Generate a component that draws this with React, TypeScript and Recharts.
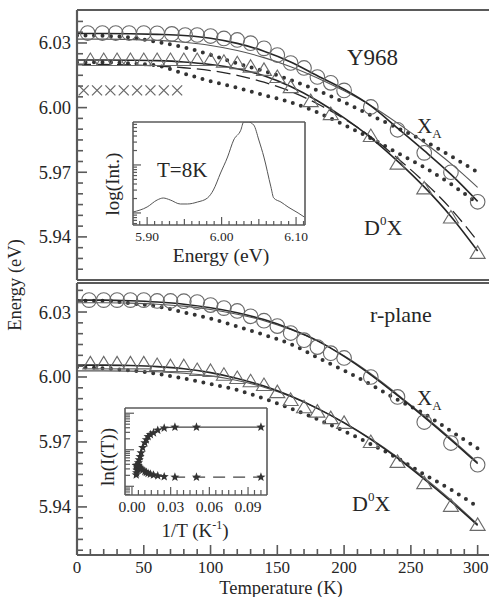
import React from "react";
import { ComposedChart, Line, XAxis, YAxis, ReferenceLine } from "recharts";

const FONT = '"Liberation Serif", "Times New Roman", serif';
const INK = "#262626";
const FRAME = "#5a5a5a";
const MARK = "#6a6a6a";

// temperature grid of the fit curves (K)
const fitT = [0, 20, 40, 60, 80, 100, 120, 140, 160, 180, 200, 220, 240, 260, 280, 300];

// ---- Y968 panel ----
const yXaT = [8, 19, 29, 39, 50, 60, 71, 81, 90, 100, 110, 120, 130, 140, 150, 160, 170, 180, 190, 200, 220, 240, 260, 280, 300];
const yXaE = [6.0346, 6.0346, 6.0346, 6.0346, 6.0346, 6.0345, 6.0342, 6.0337, 6.0337, 6.0332, 6.0321, 6.0314, 6.0299, 6.0275, 6.0244, 6.0207, 6.0184, 6.0142, 6.0115, 6.008, 6.0003, 5.9897, 5.979, 5.97, 5.9563];
const yXaFit = [6.0344, 6.0344, 6.0343, 6.034, 6.0335, 6.0322, 6.0298, 6.0262, 6.0212, 6.0148, 6.0085, 6.0008, 5.9905, 5.98, 5.969, 5.9565];
const yXaFit2 = [6.0318, 6.0318, 6.0316, 6.0312, 6.0303, 6.0288, 6.0265, 6.0232, 6.019, 6.0138, 6.0078, 6.001, 5.9928, 5.9838, 5.974, 5.963];
const yXaDot = [6.0335, 6.0333, 6.0325, 6.0305, 6.028, 6.0245, 6.0205, 6.017, 6.0128, 6.008, 6.0025, 5.9965, 5.9905, 5.9845, 5.9775, 5.97];

const yD0T = [10, 20, 30, 40, 50, 60, 70, 80, 90, 100, 110, 120, 130, 140, 150, 160, 175, 190, 220, 240, 260, 280, 300];
const yD0E = [6.0221, 6.0221, 6.0221, 6.0221, 6.0221, 6.0221, 6.0221, 6.0221, 6.0221, 6.0221, 6.0213, 6.0206, 6.019, 6.0175, 6.0142, 6.0095, 6.003, 5.997, 5.9868, 5.974, 5.9625, 5.949, 5.9326];
const yD0Fit = [6.0221, 6.0221, 6.022, 6.0218, 6.0212, 6.02, 6.018, 6.0148, 6.0098, 6.0032, 5.9952, 5.986, 5.9752, 5.9632, 5.9495, 5.9335];
const yD0Dash = [6.02, 6.02, 6.0198, 6.0193, 6.0185, 6.0172, 6.015, 6.0118, 6.0075, 6.0018, 5.9948, 5.9865, 5.9765, 5.9655, 5.953, 5.938];
const yD0Dot = [6.021, 6.021, 6.0205, 6.0195, 6.0158, 6.0123, 6.0092, 6.0058, 6.0025, 5.9978, 5.992, 5.9858, 5.979, 5.9723, 5.9645, 5.9555];

const yCrossT = [5, 15, 25, 35, 45, 55, 65, 75];
const yCrossE = [6.008, 6.008, 6.008, 6.008, 6.008, 6.008, 6.008, 6.008];

// ---- r-plane panel ----
const rXaT = [9, 20, 30, 40, 50, 60, 70, 80, 90, 100, 110, 120, 130, 140, 150, 160, 170, 180, 190, 200, 220, 240, 260, 280, 300];
const rXaE = [6.0355, 6.0355, 6.0355, 6.0355, 6.0355, 6.0351, 6.0351, 6.035, 6.0346, 6.0332, 6.0318, 6.0305, 6.028, 6.026, 6.0235, 6.0203, 6.017, 6.0138, 6.011, 6.0088, 6.0, 5.9908, 5.9792, 5.9695, 5.9595];
const rXaFit = [6.0355, 6.0355, 6.0352, 6.0346, 6.0336, 6.032, 6.0297, 6.0265, 6.0222, 6.0168, 6.0095, 6.001, 5.9915, 5.9815, 5.971, 5.96];
const rXaFit2 = [6.0343, 6.0343, 6.0341, 6.0336, 6.0327, 6.0312, 6.029, 6.026, 6.0219, 6.0166, 6.0098, 6.0015, 5.992, 5.982, 5.9715, 5.9605];
const rXaDot = [6.0352, 6.0352, 6.034, 6.0326, 6.0298, 6.027, 6.0233, 6.0195, 6.0152, 6.009, 6.003, 5.9965, 5.9895, 5.983, 5.975, 5.967];

const rD0T = [10, 20, 30, 40, 50, 60, 70, 80, 90, 100, 110, 120, 130, 140, 150, 160, 170, 180, 190, 200, 220, 240, 260, 280, 300];
const rD0E = [6.0063, 6.0063, 6.0063, 6.0063, 6.0063, 6.0055, 6.005, 6.005, 6.0032, 6.0028, 6.001, 5.9995, 5.998, 5.9963, 5.993, 5.9894, 5.986, 5.984, 5.981, 5.9788, 5.97, 5.9608, 5.951, 5.9405, 5.9317];
const rD0Fit = [6.0055, 6.0055, 6.0053, 6.0048, 6.0038, 6.002, 5.9993, 5.9958, 5.9912, 5.9855, 5.9788, 5.9712, 5.9625, 5.9528, 5.9425, 5.9315];
const rD0Fit2 = [6.0028, 6.0028, 6.0027, 6.0024, 6.0017, 6.0005, 5.9984, 5.9953, 5.991, 5.9855, 5.979, 5.9715, 5.963, 5.9535, 5.9432, 5.932];
const rD0Dot = [6.0045, 6.004, 6.003, 6.0015, 5.9993, 5.9968, 5.994, 5.99, 5.9855, 5.9805, 5.975, 5.969, 5.9625, 5.955, 5.948, 5.94];

// ---- PL spectrum inset (T = 8 K) ----
const specE = [5.881, 5.9, 5.9135, 5.9216, 5.931, 5.9446, 5.954, 5.9676, 5.981, 5.989, 5.9986, 6.008, 6.0162, 6.0257, 6.0297, 6.036, 6.0432, 6.05, 6.0568, 6.0662, 6.07, 6.0797, 6.0892, 6.1027, 6.111];
const specI = [12.6, 17.5, 24.3, 26.2, 24.3, 20.4, 20.4, 22.3, 26.2, 34, 50.5, 66, 82.5, 92, 100, 100, 97, 82.5, 66, 37, 26.2, 22.3, 17.5, 11.7, 7.8];

// ---- ln(I) vs 1/T inset ----
const invT = [0.0033, 0.0036, 0.0038, 0.0042, 0.0045, 0.005, 0.0056, 0.0063, 0.0071, 0.0083, 0.01, 0.0111, 0.0125, 0.0143, 0.0167, 0.02, 0.025, 0.0333, 0.05, 0.1];
const lnUpper = [2.3, 2.55, 2.85, 3.1, 3.4, 3.7, 4.05, 4.4, 4.85, 5.45, 6.0, 6.35, 6.7, 6.95, 7.15, 7.45, 7.7, 7.8, 7.8, 7.8];
const lnLower = [3.4, 3.4, 3.4, 3.4, 3.35, 3.3, 3.2, 3.1, 3.0, 2.85, 2.7, 2.6, 2.5, 2.4, 2.3, 2.2, 2.1, 2.05, 2.05, 2.05];

// ---- ticks ----
const tempTicks = [0, 10, 20, 30, 40, 50, 60, 70, 80, 90, 100, 110, 120, 130, 140, 150, 160, 170, 180, 190, 200, 210, 220, 230, 240, 250, 260, 270, 280, 290, 300];
const tempMajor = [0, 50, 100, 150, 200, 250, 300];
const energyTicks = [5.92, 5.925, 5.93, 5.935, 5.94, 5.945, 5.95, 5.955, 5.96, 5.965, 5.97, 5.975, 5.98, 5.985, 5.99, 5.995, 6.0, 6.005, 6.01, 6.015, 6.02, 6.025, 6.03, 6.035, 6.04];
const energyMajor = [5.94, 5.97, 6.0, 6.03];
const specTicks = [5.89, 5.9, 5.91, 5.92, 5.93, 5.94, 5.95, 5.96, 5.97, 5.98, 5.99, 6.0, 6.01, 6.02, 6.03, 6.04, 6.05, 6.06, 6.07, 6.08, 6.09, 6.1, 6.11];
const specMajor = [5.9, 6.0, 6.1];
const specMid = [5.95, 6.05];
const specLogTicks = [1.4, 4.5, 7.2, 9.6, 11.7, 25.7, 33.9, 39.8, 44.3, 48.0, 51.1, 53.8, 56.2, 58.3, 72.3, 80.5, 86.4, 90.9, 94.6, 97.7];
const specLogMajor = [11.7, 58.3];
const invTicks = [0, 0.005, 0.01, 0.015, 0.02, 0.025, 0.03, 0.035, 0.04, 0.045, 0.05, 0.055, 0.06, 0.065, 0.07, 0.075, 0.08, 0.085, 0.09, 0.095, 0.1];
const invMajor = [0, 0.03, 0.06, 0.09];
const lnTicks = [0.07, 0.35, 0.59, 0.8, 1.0, 2.26, 3.0, 3.53, 3.94, 4.27, 4.55, 4.79, 5.0, 5.2, 6.46, 7.2, 7.73, 8.14, 8.47, 8.75, 8.99, 9.2, 9.4];
const lnMajor = [1.0, 5.2, 9.4];

const pts = (xs: number[], ys: number[]) => xs.map((t, i) => ({ t, e: ys[i] }));
const has = (list: number[], v: number) => list.some((m) => Math.abs(m - v) < 1e-7);
const txt = { fontFamily: FONT };

// ---- markers ----
const OpenCircle = (p: any) => (
  <circle key={p.index} cx={p.cx} cy={p.cy} r={7.3} fill="none" stroke={MARK} strokeWidth={1.1} />
);
const OpenTriangle = (p: any) => (
  <path
    key={p.index}
    d={`M${p.cx},${p.cy - 7} L${p.cx + 7.5},${p.cy + 5.5} L${p.cx - 7.5},${p.cy + 5.5} Z`}
    fill="none"
    stroke={MARK}
    strokeWidth={1.1}
  />
);
const Cross = (p: any) => (
  <path
    key={p.index}
    d={`M${p.cx - 5},${p.cy - 5} L${p.cx + 5},${p.cy + 5} M${p.cx + 5},${p.cy - 5} L${p.cx - 5},${p.cy + 5}`}
    stroke={MARK}
    strokeWidth={1.3}
  />
);
const Star = (p: any) => {
  const pts5: string[] = [];
  for (let k = 0; k < 10; k++) {
    const r = k % 2 === 0 ? 4.8 : 2;
    const a = -Math.PI / 2 + (k * Math.PI) / 5;
    pts5.push(`${p.cx + r * Math.cos(a)},${p.cy + r * Math.sin(a)}`);
  }
  return <polygon key={p.index} points={pts5.join(" ")} fill="#333" />;
};

// ---- ticks (drawn inward) ----
const EnergyTick = (p: any) => {
  const v = p.payload.value;
  const major = has(energyMajor, v);
  return (
    <g>
      <line x1={p.x} x2={p.x + (major ? 10 : 6)} y1={p.y} y2={p.y} stroke={FRAME} strokeWidth={1.6} />
      {major && (
        <text x={p.x - 6} y={p.y + 6.5} textAnchor="end" fontSize={18.5} style={txt} fill={INK}>
          {v.toFixed(2)}
        </text>
      )}
    </g>
  );
};
const TempTick = (p: any) => {
  const v = p.payload.value;
  const major = has(tempMajor, v);
  return (
    <g>
      <line x1={p.x} x2={p.x} y1={p.y} y2={p.y - (major ? 10 : 6)} stroke={FRAME} strokeWidth={1.6} />
      {major && (
        <text x={p.x - (v === 300 ? 2 : 0)} y={p.y + 18} textAnchor="middle" fontSize={17} style={txt} fill={INK}>
          {v}
        </text>
      )}
    </g>
  );
};
const SpecXTick = (p: any) => {
  const v = p.payload.value;
  const major = has(specMajor, v);
  const len = major ? 8 : has(specMid, v) ? 6 : 4;
  return (
    <g>
      <line x1={p.x} x2={p.x} y1={p.y} y2={p.y - len} stroke={FRAME} strokeWidth={1.2} />
      {major && (
        <text x={p.x} y={p.y + 16} textAnchor="middle" fontSize={13.5} style={txt} fill={INK}>
          {v.toFixed(2)}
        </text>
      )}
    </g>
  );
};
const SpecYTick = (p: any) => {
  const major = has(specLogMajor, p.payload.value);
  return <line x1={p.x} x2={p.x + (major ? 8 : 4)} y1={p.y} y2={p.y} stroke={FRAME} strokeWidth={1.2} />;
};
const InvXTick = (p: any) => {
  const v = p.payload.value;
  const major = has(invMajor, v);
  return (
    <g>
      <line x1={p.x} x2={p.x} y1={p.y} y2={p.y - (major ? 8 : 5)} stroke={FRAME} strokeWidth={1.2} />
      {major && (
        <text x={p.x} y={p.y + 17} textAnchor="middle" fontSize={15.5} style={txt} fill={INK}>
          {v.toFixed(2)}
        </text>
      )}
    </g>
  );
};
const LnYTick = (p: any) => {
  const major = has(lnMajor, p.payload.value);
  return <line x1={p.x} x2={p.x + (major ? 9 : 5)} y1={p.y} y2={p.y} stroke={FRAME} strokeWidth={1.2} />;
};

const solid = (key: string, data: any[], w = 1.5, color = INK) => (
  <Line key={key} data={data} dataKey="e" type="monotone" stroke={color} strokeWidth={w} dot={false} activeDot={false} isAnimationActive={false} legendType="none" />
);
const dashed = (key: string, data: any[]) => (
  <Line key={key} data={data} dataKey="e" type="monotone" stroke={INK} strokeWidth={1.3} strokeDasharray="14 6" dot={false} activeDot={false} isAnimationActive={false} legendType="none" />
);
const dotted = (key: string, data: any[]) => (
  <Line key={key} data={data} dataKey="e" type="monotone" stroke="#333" strokeWidth={4} strokeLinecap="round" strokeDasharray="0 8.5" dot={false} activeDot={false} isAnimationActive={false} legendType="none" />
);
const markers = (key: string, data: any[], shape: any) => (
  <Line key={key} data={data} dataKey="e" stroke="none" dot={shape} activeDot={false} isAnimationActive={false} legendType="none" />
);

const TOP_DOMAIN: [number, number] = [5.92, 6.0453];
const BOT_DOMAIN: [number, number] = [5.9178, 6.0434];

export default function App() {
  return (
    <div style={{ position: "absolute", left: 0, top: 0, width: 489, height: 597, background: "#fff", overflow: "hidden" }}>
      {/* Y968 panel */}
      <div style={{ position: "absolute", left: 0, top: 0 }}>
        <ComposedChart width={491} height={290} margin={{ top: 10, right: 0, bottom: 9, left: 0 }}>
          <XAxis dataKey="t" type="number" domain={[0, 310]} allowDataOverflow height={1} tick={false} tickLine={false} axisLine={{ stroke: FRAME, strokeWidth: 2.2 }} />
          <YAxis type="number" domain={TOP_DOMAIN} allowDataOverflow width={77} ticks={energyTicks} interval={0} tickSize={0} tickMargin={0} tickLine={false} tick={EnergyTick} axisLine={{ stroke: FRAME, strokeWidth: 2.2 }} />
          <ReferenceLine y={TOP_DOMAIN[1]} stroke={FRAME} strokeWidth={2.2} />
          {dotted("xaDot", pts(fitT, yXaDot))}
          {dotted("d0Dot", pts(fitT, yD0Dot))}
          {solid("xaFit2", pts(fitT, yXaFit2), 1.1, "#555")}
          {solid("xaFit", pts(fitT, yXaFit), 1.6)}
          {dashed("d0Dash", pts(fitT, yD0Dash))}
          {solid("d0Fit", pts(fitT, yD0Fit), 1.6)}
          {markers("xaM", pts(yXaT, yXaE), OpenCircle)}
          {markers("d0M", pts(yD0T, yD0E), OpenTriangle)}
          {markers("crM", pts(yCrossT, yCrossE), Cross)}
        </ComposedChart>
      </div>

      {/* r-plane panel */}
      <div style={{ position: "absolute", left: 0, top: 273 }}>
        <ComposedChart width={491} height={322} margin={{ top: 10, right: 0, bottom: 0, left: 0 }}>
          <XAxis dataKey="t" type="number" domain={[0, 310]} allowDataOverflow height={40} ticks={tempTicks} interval={0} tickSize={0} tickMargin={0} tickLine={false} tick={TempTick} axisLine={{ stroke: FRAME, strokeWidth: 2.2 }} />
          <YAxis type="number" domain={BOT_DOMAIN} allowDataOverflow width={77} ticks={energyTicks} interval={0} tickSize={0} tickMargin={0} tickLine={false} tick={EnergyTick} axisLine={{ stroke: FRAME, strokeWidth: 2.2 }} />
          <ReferenceLine y={BOT_DOMAIN[1]} stroke={FRAME} strokeWidth={2.2} />
          {dotted("rxaDot", pts(fitT, rXaDot))}
          {dotted("rd0Dot", pts(fitT, rD0Dot))}
          {solid("rxaFit2", pts(fitT, rXaFit2), 1.1, "#555")}
          {solid("rxaFit", pts(fitT, rXaFit), 1.6)}
          {solid("rd0Fit2", pts(fitT, rD0Fit2), 1.1, "#555")}
          {solid("rd0Fit", pts(fitT, rD0Fit), 1.6)}
          {markers("rxaM", pts(rXaT, rXaE), OpenCircle)}
          {markers("rd0M", pts(rD0T, rD0E), OpenTriangle)}
        </ComposedChart>
      </div>

      {/* spectrum inset */}
      <div style={{ position: "absolute", left: 100, top: 115 }}>
        <ComposedChart width={220} height={158} margin={{ top: 7, right: 15, bottom: 0, left: 0 }}>
          <XAxis dataKey="t" type="number" domain={[5.881, 6.112]} allowDataOverflow height={48} ticks={specTicks} interval={0} tickSize={0} tickMargin={0} tickLine={false} tick={SpecXTick} axisLine={{ stroke: FRAME, strokeWidth: 1.6 }} />
          <YAxis type="number" domain={[0, 100]} allowDataOverflow width={33} ticks={specLogTicks} interval={0} tickSize={0} tickMargin={0} tickLine={false} tick={SpecYTick} axisLine={{ stroke: FRAME, strokeWidth: 1.6 }} />
          <ReferenceLine y={100} stroke={FRAME} strokeWidth={1.6} />
          <ReferenceLine x={6.112} stroke={FRAME} strokeWidth={1.6} />
          {solid("spec", pts(specE, specI), 1, "#555")}
        </ComposedChart>
      </div>

      {/* ln(I) inset */}
      <div style={{ position: "absolute", left: 95, top: 400 }}>
        <ComposedChart width={185} height={140} margin={{ top: 8, right: 13, bottom: 0, left: 0 }}>
          <XAxis dataKey="t" type="number" domain={[-0.0054, 0.1047]} allowDataOverflow height={45} ticks={invTicks} interval={0} tickSize={0} tickMargin={0} tickLine={false} tick={InvXTick} axisLine={{ stroke: FRAME, strokeWidth: 1.6 }} />
          <YAxis type="number" domain={[0, 10]} allowDataOverflow width={30} ticks={lnTicks} interval={0} tickSize={0} tickMargin={0} tickLine={false} tick={LnYTick} axisLine={{ stroke: FRAME, strokeWidth: 1.6 }} />
          <ReferenceLine y={10} stroke={FRAME} strokeWidth={1.6} />
          <ReferenceLine x={0.1047} stroke={FRAME} strokeWidth={1.6} />
          {solid("lnUp", pts(invT, lnUpper), 1.1, "#444")}
          <Line data={pts(invT, lnLower)} dataKey="e" type="monotone" stroke="#444" strokeWidth={1.1} strokeDasharray="12 8" dot={false} activeDot={false} isAnimationActive={false} legendType="none" />
          {markers("lnUpM", pts(invT, lnUpper), Star)}
          {markers("lnLoM", pts(invT, lnLower), Star)}
        </ComposedChart>
      </div>

      {/* labels */}
      <svg width={489} height={597} style={{ position: "absolute", left: 0, top: 0, pointerEvents: "none", fontFamily: FONT }} fill={INK}>
        <text x={21} y={285} fontSize={18.5} textAnchor="middle" transform="rotate(-90 21 285)">Energy (eV)</text>
        <text x={347} y={65} fontSize={23}>Y968</text>
        <text x={417} y={133} fontSize={21}>X<tspan fontSize={13} dy={5}>A</tspan></text>
        <text x={364} y={235} fontSize={22}>D<tspan fontSize={13} dy={-10}>0</tspan><tspan dy={10}>X</tspan></text>
        <text x={157} y={177} fontSize={21}>T=8K</text>
        <text x={119} y={184} fontSize={19} textAnchor="middle" transform="rotate(-90 119 184)">log(Int.)</text>
        <text x={221} y={262} fontSize={19.5} textAnchor="middle">Energy (eV)</text>
        <text x={370} y={322} fontSize={22}>r-plane</text>
        <text x={417} y={405} fontSize={21}>X<tspan fontSize={13} dy={5}>A</tspan></text>
        <text x={352} y={511} fontSize={22}>D<tspan fontSize={13} dy={-10}>0</tspan><tspan dy={10}>X</tspan></text>
        <text x={114} y={457} fontSize={19} textAnchor="middle" transform="rotate(-90 114 457)">ln(I(T))</text>
        <text x={195} y={537} fontSize={19} textAnchor="middle">1/T (K<tspan fontSize={12} dy={-8}>-1</tspan><tspan dy={8}>)</tspan></text>
        <text x={281} y={594} fontSize={18.5} textAnchor="middle">Temperature (K)</text>
      </svg>
    </div>
  );
}
